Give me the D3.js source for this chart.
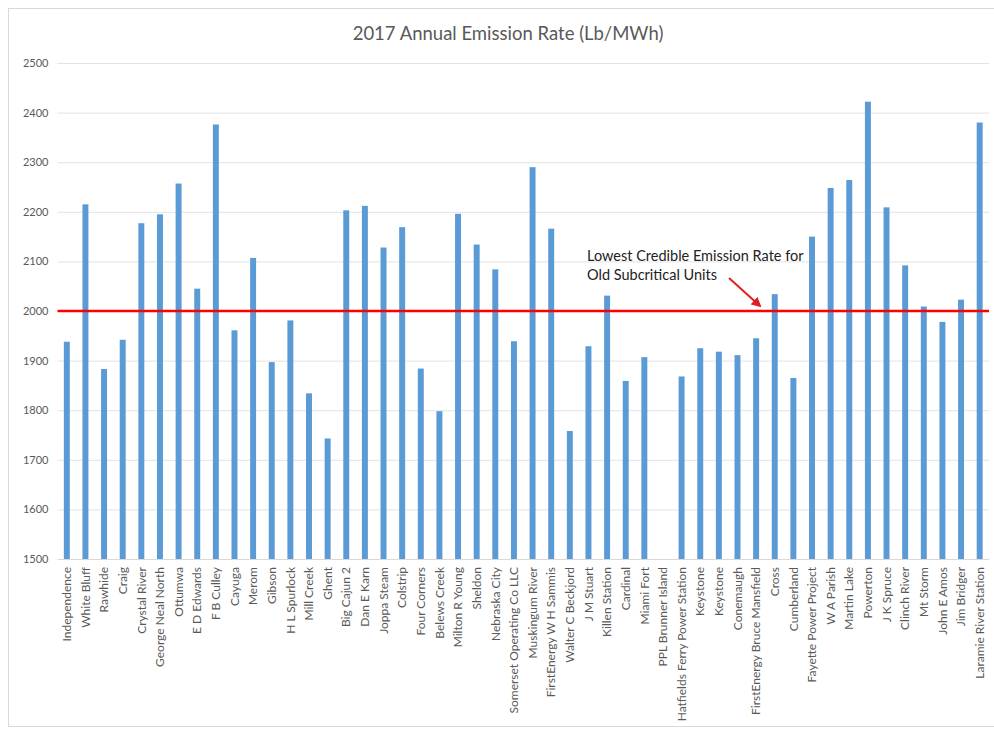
<!DOCTYPE html>
<html>
<head>
<meta charset="utf-8">
<script src="https://cdnjs.cloudflare.com/ajax/libs/d3/7.8.5/d3.min.js"></script>
<style>
  body { margin: 0; background: #fff; }
  text { font-family: Lato, "Open Sans", sans-serif; }
</style>
</head>
<body>
<script>
// plant names and 2017 emission rates (Lb/MWh)
var plants = ["Independence", "White Bluff", "Rawhide", "Craig", "Crystal River",
  "George Neal North", "Ottumwa", "E D Edwards", "F B Culley", "Cayuga", "Merom",
  "Gibson", "H L Spurlock", "Mill Creek", "Ghent", "Big Cajun 2", "Dan E Karn",
  "Joppa Steam", "Colstrip", "Four Corners", "Belews Creek", "Milton R Young",
  "Sheldon", "Nebraska City", "Somerset Operating Co LLC", "Muskingum River",
  "FirstEnergy W H Sammis", "Walter C Beckjord", "J M Stuart", "Killen Station",
  "Cardinal", "Miami Fort", "PPL Brunner Island", "Hatfields Ferry Power Station",
  "Keystone", "Keystone ", "Conemaugh", "FirstEnergy Bruce Mansfield", "Cross",
  "Cumberland", "Fayette Power Project", "W A Parish", "Martin Lake", "Powerton",
  "J K Spruce", "Clinch River", "Mt Storm", "John E Amos", "Jim Bridger",
  "Laramie River Station"];

var rates = [1938, 2215, 1883, 1942, 2177,
  2195, 2257, 2045, 2376, 1961, 2107,
  1897, 1981, 1834, 1743, 2203, 2212,
  2128, 2169, 1884, 1798, 2196,
  2134, 2084, 1939, 2290,
  2166, 1758, 1929, 2031,
  1859, 1907, null, 1868,
  1925, 1918, 1911, 1945, 2034,
  1865, 2150, 2248, 2264, 2422,
  2209, 2092, 2009, 1978, 2023,
  2380];

var yTicks = [1500, 1600, 1700, 1800, 1900, 2000, 2100, 2200, 2300, 2400, 2500];
var threshold = 2000;
var chartTitle = "2017 Annual Emission Rate (Lb/MWh)";
var noteLines = ["Lowest Credible Emission Rate for", "Old Subcritical Units"];

var svgWidth = 994;
var svgHeight = 732;
var plotLeft = 57.5, plotRight = 989, plotTop = 63, plotBottom = 559;

var data = plants.map(function(p, i) { return {name: p, rate: rates[i]}; });

var svg = d3.select("body")
  .append("svg")
  .attr("width", svgWidth)
  .attr("height", svgHeight);

// chart frame
svg.append("rect")
  .attr("x", 8.5).attr("y", 8.5)
  .attr("width", svgWidth + 10).attr("height", 718)
  .attr("fill", "#fff")
  .attr("stroke", "#d9d9d9");

var xScale = d3.scaleBand()
  .domain(plants)
  .range([plotLeft, plotRight])
  .paddingInner(0.68)
  .paddingOuter(0.34);

var yScale = d3.scaleLinear()
  .domain([1500, 2500])
  .range([plotBottom, plotTop]);

// gridlines + y labels
var yAxis = d3.axisLeft(yScale)
  .tickValues(yTicks)
  .tickSize(-(plotRight - plotLeft))
  .tickPadding(9)
  .tickFormat(d3.format("d"));

var yG = svg.append("g")
  .attr("transform", "translate(" + plotLeft + ",0)")
  .call(yAxis);
yG.select(".domain").remove();
yG.selectAll(".tick line").attr("stroke", "#e3e3e3");
yG.selectAll(".tick text")
  .attr("fill", "#595959")
  .style("font-size", "11px");

// bars
svg.append("g").selectAll("rect")
  .data(data.filter(function(d) { return d.rate != null; }))
  .enter()
  .append("rect")
  .attr("x", function(d) { return xScale(d.name); })
  .attr("y", function(d) { return yScale(d.rate); })
  .attr("width", xScale.bandwidth())
  .attr("height", function(d) { return yScale(1500) - yScale(d.rate); })
  .attr("fill", "#5b9bd5");

// x axis line + rotated labels
var xAxis = d3.axisBottom(xScale).tickSize(0).tickPadding(8);
var xG = svg.append("g")
  .attr("transform", "translate(0," + plotBottom + ")")
  .call(xAxis);
xG.select(".domain").attr("stroke", "#d9d9d9");
xG.selectAll(".tick text")
  .attr("fill", "#595959")
  .style("font-size", "12px")
  .attr("transform", "rotate(-90)")
  .attr("x", -8)
  .attr("y", 0)
  .attr("dy", "0.35em")
  .attr("text-anchor", "end")
  .text(function(d) { return d.trim(); });

// threshold line
svg.append("line")
  .attr("x1", plotLeft).attr("x2", plotRight)
  .attr("y1", yScale(threshold)).attr("y2", yScale(threshold))
  .attr("stroke", "#ff0000")
  .attr("stroke-width", 2.5);

// title
svg.append("text")
  .attr("x", 508).attr("y", 40)
  .attr("text-anchor", "middle")
  .attr("fill", "#595959")
  .style("font-size", "18.5px")
  .text(chartTitle);

// annotation
svg.append("g").selectAll("text")
  .data(noteLines)
  .enter()
  .append("text")
  .attr("x", 587)
  .attr("y", function(d, i) { return 261 + i * 19; })
  .attr("fill", "#222")
  .style("font-size", "14.5px")
  .text(function(d) { return d; });

svg.append("defs").append("marker")
  .attr("id", "arrow")
  .attr("viewBox", "0 0 10 10")
  .attr("refX", 8).attr("refY", 5)
  .attr("markerWidth", 5).attr("markerHeight", 5)
  .attr("orient", "auto")
  .append("path")
  .attr("d", "M0,0L10,5L0,10z")
  .attr("fill", "#e02020");

svg.append("line")
  .attr("x1", 729).attr("y1", 278)
  .attr("x2", 760).attr("y2", 306)
  .attr("stroke", "#e02020")
  .attr("stroke-width", 2)
  .attr("marker-end", "url(#arrow)");
</script>
</body>
</html>
